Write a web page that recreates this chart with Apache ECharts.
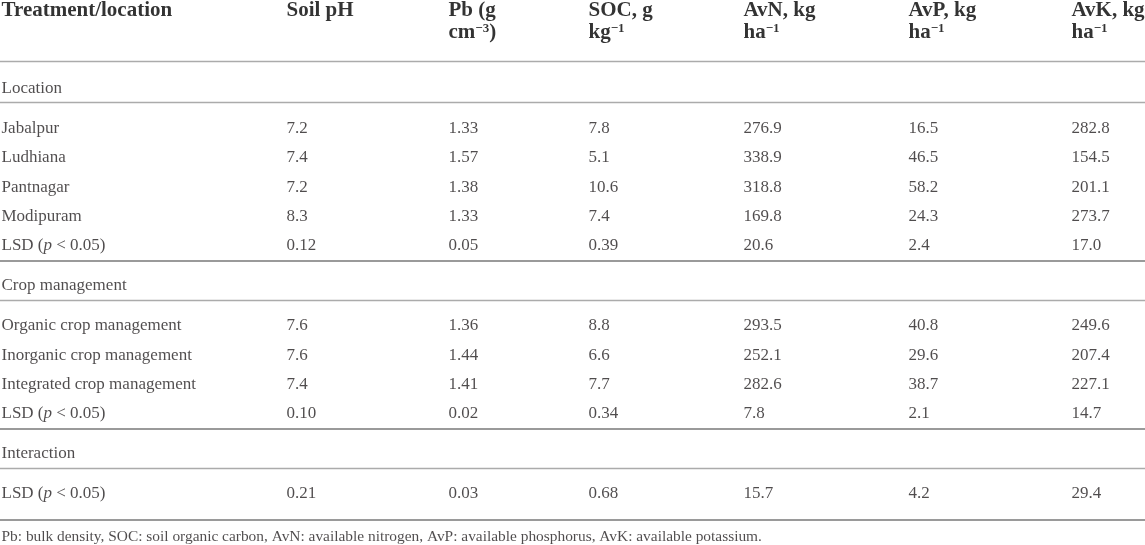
<!DOCTYPE html>
<html>
<head>
<meta charset="utf-8">
<script src="https://cdn.jsdelivr.net/npm/echarts@6.0.0/dist/echarts.min.js"></script>
<style>
html,body{margin:0;padding:0;background:#fff;}
#chart{width:1145px;height:545px;}
</style>
</head>
<body>
<div id="chart"></div>
<script>
// ---------- table content ----------
const headerTop = ['Treatment/location', 'Soil pH', 'Pb (g', 'SOC, g', 'AvN, kg', 'AvP, kg', 'AvK, kg'];
const headerBottom = ['', '', 'cm{sup|−3})', 'kg{sup|−1}', 'ha{sup|−1}', 'ha{sup|−1}', 'ha{sup|−1}'];

const sectionTitles = ['Location', 'Crop management', 'Interaction'];
const lsdLabel = 'LSD ({i|p} < 0.05)';

const locationNames = ['Jabalpur', 'Ludhiana', 'Pantnagar', 'Modipuram'];
const locationValues = [
  ['7.2', '1.33', '7.8', '276.9', '16.5', '282.8'],
  ['7.4', '1.57', '5.1', '338.9', '46.5', '154.5'],
  ['7.2', '1.38', '10.6', '318.8', '58.2', '201.1'],
  ['8.3', '1.33', '7.4', '169.8', '24.3', '273.7']
];
const locationLSD = ['0.12', '0.05', '0.39', '20.6', '2.4', '17.0'];

const cropNames = ['Organic crop management', 'Inorganic crop management', 'Integrated crop management'];
const cropValues = [
  ['7.6', '1.36', '8.8', '293.5', '40.8', '249.6'],
  ['7.6', '1.44', '6.6', '252.1', '29.6', '207.4'],
  ['7.4', '1.41', '7.7', '282.6', '38.7', '227.1']
];
const cropLSD = ['0.10', '0.02', '0.34', '7.8', '2.1', '14.7'];

const interactionNames = [];
const interactionValues = [];
const interactionLSD = ['0.21', '0.03', '0.68', '15.7', '4.2', '29.4'];

const footnote = 'Pb: bulk density, SOC: soil organic carbon, AvN: available nitrogen, AvP: available phosphorus, AvK: available potassium.';

// ---------- layout (pixel space of the axes) ----------
const W = 1145, H = 545;
const colLeft = [1, 286, 448, 588, 743, 908, 1071];
const headerLineY = [11, 33];
const headerRuleY = 61;
const L = { firstTitle: 27.4, title: 25.4, belowTitle: 14.3, firstRow: 25.6, rowStep: 29.4, afterLast: 14.6, afterFinal: 26, foot: 16.8 };

const FONT = 'Liberation Serif';
const textColor = '#231f20';

const sections = [
  { title: sectionTitles[0], names: locationNames, values: locationValues, lsd: locationLSD },
  { title: sectionTitles[1], names: cropNames, values: cropValues, lsd: cropLSD },
  { title: sectionTitles[2], names: interactionNames, values: interactionValues, lsd: interactionLSD }
];

const headerData = [];
const bodyData = [];
const footData = [];
const rules = [];

headerTop.forEach((t, c) => headerData.push({ name: t, value: [colLeft[c], headerLineY[0]] }));
headerBottom.forEach((t, c) => { if (t) headerData.push({ name: t, value: [colLeft[c], headerLineY[1]] }); });
rules.push({ y: headerRuleY, strong: false });

let y = headerRuleY;
sections.forEach((s, si) => {
  const titleY = y + (si === 0 ? L.firstTitle : L.title);
  bodyData.push({ name: s.title, value: [colLeft[0], titleY] });
  const ruleT = titleY + L.belowTitle;
  rules.push({ y: ruleT, strong: false });
  let ry = ruleT + L.firstRow;
  const allRows = s.names.map((n, i) => [n].concat(s.values[i]));
  allRows.push([lsdLabel].concat(s.lsd));
  allRows.forEach((row, ri) => {
    const rowY = ry + ri * L.rowStep;
    row.forEach((cell, c) => bodyData.push({ name: cell, value: [colLeft[c], rowY] }));
  });
  const lastY = ry + (allRows.length - 1) * L.rowStep;
  const endRule = lastY + (si === sections.length - 1 ? L.afterFinal : L.afterLast);
  rules.push({ y: endRule, strong: true });
  y = endRule;
});
footData.push({ name: footnote, value: [colLeft[0], y + L.foot] });

const richStyles = {
  i: { fontFamily: FONT, fontStyle: 'italic', fontSize: 17, color: textColor },
  sup: { fontFamily: FONT, fontWeight: 'bold', fontSize: 13, color: '#000', verticalAlign: 'top', lineHeight: 11 }
};

function textSeries(data, size, weight, color, lh) {
  return {
    type: 'scatter',
    data: data,
    symbolSize: 1,
    itemStyle: { color: 'rgba(0,0,0,0)' },
    silent: true,
    label: {
      show: true,
      position: 'right',
      distance: 0,
      formatter: p => p.name,
      fontFamily: FONT,
      fontSize: size,
      fontWeight: weight,
      color: color,
      lineHeight: lh,
      verticalAlign: 'middle',
      rich: richStyles
    }
  };
}

const bodySeries = textSeries(bodyData, 17, 'normal', textColor, 20);
bodySeries.markLine = {
  silent: true,
  symbol: 'none',
  label: { show: false },
  animation: false,
  data: rules.map(r => ({
    yAxis: r.y,
    lineStyle: { type: 'solid', width: r.strong ? 2.2 : 1.3, color: r.strong ? '#9a9a9a' : '#ababab' }
  }))
};

const chart = echarts.init(document.getElementById('chart'), null, { renderer: 'canvas' });
chart.setOption({
  animation: false,
  backgroundColor: '#ffffff',
  grid: { left: 0, right: 0, top: 0, bottom: 0, containLabel: false },
  xAxis: { type: 'value', min: 0, max: W, show: false },
  yAxis: { type: 'value', min: 0, max: H, inverse: true, show: false },
  series: [
    textSeries(headerData, 21, 'bold', '#000', 22),
    bodySeries,
    textSeries(footData, 15.4, 'normal', textColor, 18)
  ]
});
</script>
</body>
</html>
